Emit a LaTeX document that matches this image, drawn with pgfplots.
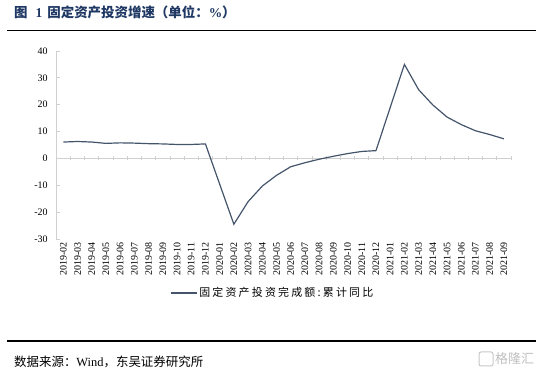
\documentclass[border=0pt]{standalone}
\usepackage{pgfplots}
\pgfplotsset{compat=1.18}
\usepackage{pgfplotstable}
\usepackage{fontspec}
\setmainfont{Liberation Serif}
\newfontfamily\cjk{Noto Sans CJK SC}
\newfontfamily\cjklg[LetterSpace=20]{Noto Sans CJK SC}
\definecolor{linec}{HTML}{44546A}
\definecolor{titlec}{HTML}{1F3864}
\definecolor{axc}{HTML}{D0D0D0}

\pgfplotstableread{
x y
0 6.1
1 6.3
2 6.1
3 5.6
4 5.8
5 5.7
6 5.5
7 5.4
8 5.2
9 5.2
10 5.4
12 -24.5
13 -16.1
14 -10.3
15 -6.3
16 -3.1
17 -1.6
18 -0.3
19 0.8
20 1.8
21 2.6
22 2.9
24 35.0
25 25.6
26 19.9
27 15.4
28 12.6
29 10.3
30 8.9
31 7.3
}\fai

\begin{document}
\begin{tikzpicture}
\useasboundingbox (0bp,0bp) rectangle (543bp,374bp);
\draw[line width=0.8bp] (7bp,344bp) -- (536bp,344bp);
\draw[line width=1.6bp] (7bp,33bp) -- (536bp,33bp);
\node[anchor=west, inner sep=0, text=titlec, font=\fontsize{13.5}{15}\selectfont\bfseries] at (14bp,362bp)
  {{\cjk 图}\hspace{8bp}1\hspace{5bp}{\cjk 固定资产投资增速（单位：}\%{\cjk ）}};
\node[anchor=west, inner sep=0, font=\fontsize{12.5}{14}\selectfont] at (14bp,12bp)
  {{\cjk 数据来源：}Wind{\cjk ，东吴证券研究所}};
\draw[black!22, line width=1bp, rounded corners=2bp] (479bp,8bp) rectangle (493bp,22bp);
\node[anchor=west, inner sep=0, text=black!25, font=\fontsize{13}{15}\selectfont\cjk] at (495bp,15bp) {格隆汇};

\begin{axis}[
  scale only axis, width=454.8bp, height=188bp,
  at={(56.2bp,135bp)}, anchor=south west,
  xmin=-0.5, xmax=31.5, ymin=-30, ymax=40,
  axis x line*=middle, axis y line*=left,
  hide obscured x ticks=false, hide obscured y ticks=false,
  xtick={-0.5,0.5,...,31.5}, xticklabels={},
  ytick={-30,-20,...,40},
  axis line style={axc, line width=0.8bp},
  tick style={axc, line width=0.8bp},
  major tick length=4bp, xtick align=center, ytick align=inside,
  yticklabel style={font=\fontsize{10}{12}\selectfont, xshift=-5bp},
  /pgf/number format/assume math mode=true,
  clip=false,
  legend style={at={(axis description cs:0.25,-0.287)}, anchor=west, draw=none, fill=none,
    font=\fontsize{11}{13}\selectfont\cjklg, inner sep=0pt},
  legend image code/.code={\draw[#1] (0bp,0bp) -- (26bp,0bp);},
]
\addplot[linec, line width=1.2bp] table[x=x,y=y] {\fai};
\addlegendentry{固定资产投资完成额:累计同比}
\end{axis}

\begin{axis}[
  scale only axis, width=454.8bp, height=188bp,
  at={(56.2bp,135bp)}, anchor=south west,
  xmin=-0.5, xmax=31.5, ymin=-30, ymax=40,
  axis x line*=bottom, axis y line=none,
  x axis line style={draw=none},
  xtick={0,...,31}, major tick length=0pt,
  xticklabels={2019-02,2019-03,2019-04,2019-05,2019-06,2019-07,2019-08,2019-09,2019-10,2019-11,2019-12,2020-01,2020-02,2020-03,2020-04,2020-05,2020-06,2020-07,2020-08,2020-09,2020-10,2020-11,2020-12,2021-01,2021-02,2021-03,2021-04,2021-05,2021-06,2021-07,2021-08,2021-09},
  xticklabel style={rotate=90, anchor=east, font=\fontsize{10}{12}\selectfont},
]
\addplot[draw=none] coordinates {(0,0)};
\end{axis}
\end{tikzpicture}
\end{document}
